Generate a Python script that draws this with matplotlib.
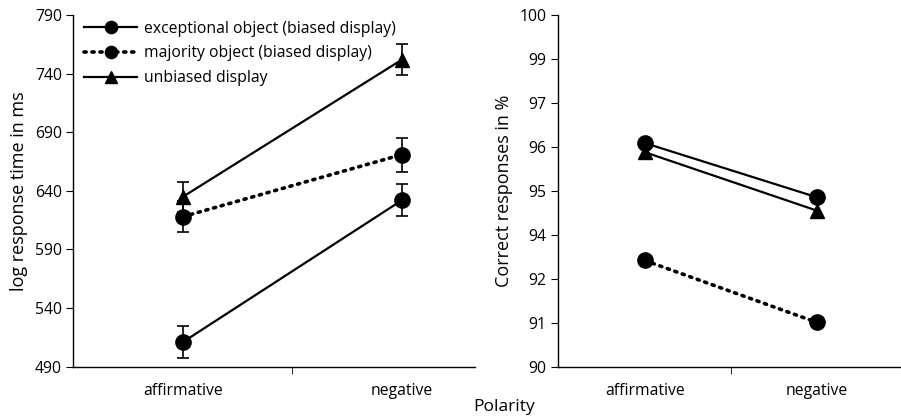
import numpy as np
from matplotlib import pyplot as plt

plt.rcParams['font.family'] = ['Open Sans', 'DejaVu Sans']

polarity = ['affirmative', 'negative']

# log response times (left panel)
rt_exceptional = [511, 632]
rt_exceptional_err = [14, 13.5]
rt_majority = [618, 671]
rt_majority_err = [13, 14.5]
rt_unbiased = [635, 752]
rt_unbiased_err = [13, 13]

# correct responses in % (right panel)
acc_exceptional = [96.36, 94.82]
acc_majority = [93.02, 91.26]
acc_unbiased = [96.1, 94.44]

acc_ticks = np.linspace(90, 100, 9)
acc_tick_labels = ['90', '91', '92', '94', '95', '96', '97', '99', '100']

fig = plt.figure(figsize=(9.01, 4.2), dpi=100)
ax1 = fig.add_axes([0.081, 0.127, 0.446, 0.837])
ax2 = fig.add_axes([0.619, 0.127, 0.38, 0.837])

x = np.arange(len(polarity))
solid = dict(color='black', lw=1.6)
dotted = dict(color='black', lw=2.6, linestyle=(0, (0.6, 1.6)), dash_capstyle='round')
err_kw = dict(ecolor='black', elinewidth=1.2, capsize=4, capthick=1.2)

ax1.errorbar(x, rt_exceptional, yerr=rt_exceptional_err, marker='o', ms=11,
             label='exceptional object (biased display)', **solid, **err_kw)
ax1.errorbar(x, rt_majority, yerr=rt_majority_err, marker='o', ms=11,
             label='majority object (biased display)', **dotted, **err_kw)
ax1.errorbar(x, rt_unbiased, yerr=rt_unbiased_err, marker='^', ms=10,
             label='unbiased display', **solid, **err_kw)

ax1.set_ylim(490, 790)
ax1.set_yticks(np.arange(490, 791, 50))
ax1.set_xlim(-0.502, 1.333)
ax1.set_ylabel('log response time in ms', fontsize=13, labelpad=5)

handles, labels = ax1.get_legend_handles_labels()
handles = [h[0] for h in handles]
ax1.legend(handles, labels, loc='upper left', bbox_to_anchor=(0.0, 1.015),
           frameon=False, fontsize=11.3, handlelength=3.4, handletextpad=0.4,
           labelspacing=0.55, borderaxespad=0.3, markerscale=0.8)

ax2.plot(x, acc_exceptional, marker='o', ms=11, **solid)
ax2.plot(x, acc_majority, marker='o', ms=11, **dotted)
ax2.plot(x, acc_unbiased, marker='^', ms=10, **solid)

ax2.set_ylim(90, 100)
ax2.set_yticks(acc_ticks, acc_tick_labels)
ax2.set_xlim(-0.507, 1.485)
ax2.set_ylabel('Correct responses in %', fontsize=13, labelpad=5)

for ax in (ax1, ax2):
    ax.spines[['top', 'right']].set_visible(False)
    ax.spines[['left', 'bottom']].set_linewidth(1.0)
    ax.set_xticks(x, polarity)
    ax.set_xticks([0.5], minor=True)
    ax.tick_params(axis='x', which='major', length=0, pad=12, labelsize=11.3)
    ax.tick_params(axis='x', which='minor', length=5, direction='out')
    ax.tick_params(axis='y', length=5, direction='out', labelsize=11.3, pad=3)

fig.text(0.56, 0.03, 'Polarity', fontsize=12.5, ha='center', va='center')

fig.savefig('out.png', dpi=100)
